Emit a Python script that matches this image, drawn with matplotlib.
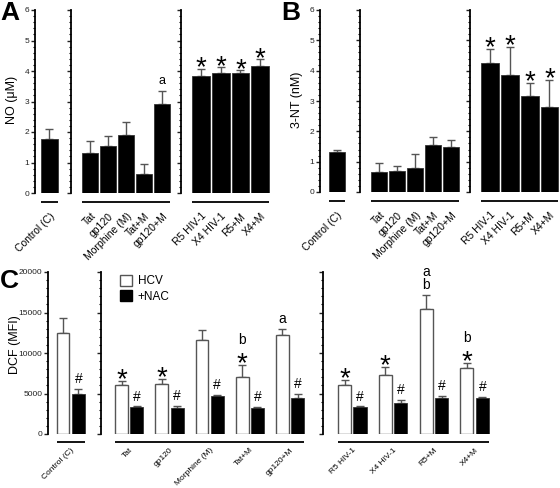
import numpy as np
import matplotlib
matplotlib.use("Agg")
import matplotlib.pyplot as plt
from matplotlib.ticker import MultipleLocator
from matplotlib.patches import Patch

plt.rcParams['font.family'] = ['Liberation Sans', 'DejaVu Sans']

W, H = 560, 488

# ---------------- data ----------------
ctrl_lab = ['Control (C)']
g2_lab = ['Tat', 'gp120', 'Morphine (M)', 'Tat+M', 'gp120+M']
g3_lab = ['R5 HIV-1', 'X4 HIV-1', 'R5+M', 'X4+M']

# panel A: NO (uM)
no_ctrl = [1.76]
no_ctrl_err = [0.33]
no_g2 = [1.30, 1.54, 1.90, 0.61, 2.91]
no_g2_err = [0.41, 0.32, 0.42, 0.34, 0.43]
no_g2_mark = ['', '', '', '', 'a']
no_g3 = [3.83, 3.93, 3.93, 4.15]
no_g3_err = [0.24, 0.19, 0.09, 0.23]
no_g3_mark = ['*', '*', '*', '*']

# panel B: 3-NT (nM)
nt_ctrl = [1.31]
nt_ctrl_err = [0.09]
nt_g2 = [0.66, 0.69, 0.80, 1.55, 1.48]
nt_g2_err = [0.31, 0.17, 0.46, 0.27, 0.22]
nt_g2_mark = ['', '', '', '', '']
nt_g3 = [4.25, 3.86, 3.15, 2.80]
nt_g3_err = [0.47, 0.92, 0.45, 0.89]
nt_g3_mark = ['*', '*', '*', '*']

# panel C: DCF (MFI), HCV vs +NAC
dcf_ctrl_hcv = [12500]
dcf_ctrl_hcv_err = [1800]
dcf_ctrl_nac = [4900]
dcf_ctrl_nac_err = [700]
dcf_g2_hcv = [6000, 6200, 11600, 7000, 12200]
dcf_g2_hcv_err = [600, 600, 1300, 1500, 800]
dcf_g2_nac = [3300, 3250, 4650, 3250, 4500]
dcf_g2_nac_err = [100, 250, 200, 100, 500]
dcf_g2_mark = [['*'], ['*'], [], ['*', 'b'], ['a']]
dcf_g3_hcv = [6100, 7300, 15400, 8200]
dcf_g3_hcv_err = [600, 1000, 1800, 600]
dcf_g3_nac = [3300, 3770, 4500, 4500]
dcf_g3_nac_err = [100, 430, 250, 100]
dcf_g3_mark = [['*'], ['*'], ['b', 'a'], ['*', 'b']]

fig = plt.figure(figsize=(W / 100, H / 100), dpi=100)

ECOL = '#555555'


def make_ax(left, top, bottom, pitch, off, n, pad, ymax, minor, show_labels):
    width = pitch * (off + n - 1 + pad)
    ax = fig.add_axes([left / W, 1 - bottom / H, width / W, (bottom - top) / H])
    ax.set_xlim(-off, n - 1 + pad)
    ax.set_ylim(0, ymax)
    for s in ['top', 'right', 'bottom']:
        ax.spines[s].set_visible(False)
    ax.spines['left'].set_linewidth(1.3)
    ax.yaxis.set_minor_locator(MultipleLocator(minor))
    ax.tick_params(axis='y', which='major', length=3, width=1, labelsize=6,
                   pad=1, labelleft=show_labels, colors='#222222')
    ax.tick_params(axis='y', which='minor', length=1.8, width=0.8)
    ax.patch.set_alpha(0)
    return ax, bottom - top


def labels_and_line(ax, hpx, labels, x0, x1, gap=9, fs=7.5, pad=13):
    ax.plot([x0, x1], [-gap / hpx] * 2, transform=ax.get_xaxis_transform(),
            color='black', lw=1.3, clip_on=False, solid_capstyle='butt')
    ax.set_xticks(np.arange(len(labels)))
    ax.set_xticklabels(labels, rotation=45, ha='right', rotation_mode='anchor',
                       fontsize=fs)
    ax.tick_params(axis='x', length=0, pad=pad)


def star(ax, x, y, dy=0):
    ax.annotate('*', (x, y), xytext=(0, dy - 9), textcoords='offset points',
                ha='center', va='bottom', fontsize=20)


def letter(ax, x, y, s, dy=2, fs=9):
    ax.annotate(s, (x, y), xytext=(0, dy), textcoords='offset points',
                ha='center', va='bottom', fontsize=fs)


def single_group(ax, vals, errs, width):
    x = np.arange(len(vals))
    ax.bar(x, vals, width=width, color='black', edgecolor='#333333', lw=0.6, zorder=2)
    ax.errorbar(x, vals, yerr=[np.zeros(len(vals)), errs], fmt='none',
                ecolor=ECOL, elinewidth=1, capsize=3.2, capthick=1, zorder=1)
    return x


def mark_single(ax, x, vals, errs, marks):
    for xi, v, e, m in zip(x, vals, errs, marks):
        if m == '*':
            star(ax, xi, v + e)
        elif m:
            letter(ax, xi, v + e, m, dy=3)


# ---------------- panel A ----------------
for (vals, errs, marks, labels, left, pitch, off, pad, w, show) in [
        (no_ctrl, no_ctrl_err, [''], ctrl_lab, 35, 19, 0.76, 0.65, 0.9, True),
        (no_g2, no_g2_err, no_g2_mark, g2_lab, 71, 18, 1.08, 0.6, 0.89, False),
        (no_g3, no_g3_err, no_g3_mark, g3_lab, 181, 19.7, 1.02, 0.6, 0.91, False)]:
    ax, hpx = make_ax(left, 10, 193, pitch, off, len(vals), pad, 6, 0.2, show)
    x = single_group(ax, vals, errs, w)
    mark_single(ax, x, vals, errs, marks)
    labels_and_line(ax, hpx, labels, -w / 2, len(vals) - 1 + w / 2)
    ax.yaxis.set_major_locator(MultipleLocator(1))

# ---------------- panel B ----------------
for (vals, errs, marks, labels, left, pitch, off, pad, w, show) in [
        (nt_ctrl, nt_ctrl_err, [''], ctrl_lab, 320, 18, 0.94, 0.65, 0.89, True),
        (nt_g2, nt_g2_err, nt_g2_mark, g2_lab, 360, 18, 1.08, 0.6, 0.89, False),
        (nt_g3, nt_g3_err, nt_g3_mark, g3_lab, 470, 19.7, 1.03, 0.55, 0.9, False)]:
    ax, hpx = make_ax(left, 10, 192, pitch, off, len(vals), pad, 6, 0.2, show)
    x = single_group(ax, vals, errs, w)
    mark_single(ax, x, vals, errs, marks)
    labels_and_line(ax, hpx, labels, -w / 2, len(vals) - 1 + w / 2)
    ax.yaxis.set_major_locator(MultipleLocator(1))

# ---------------- panel C ----------------
OFF, BW = 0.19, 0.32
for (hv, he, nv, ne, marks, labels, left, pitch, off, pad, show) in [
        (dcf_ctrl_hcv, dcf_ctrl_hcv_err, dcf_ctrl_nac, dcf_ctrl_nac_err, [[]],
         ctrl_lab, 48, 40.5, 0.56, 0.5, True),
        (dcf_g2_hcv, dcf_g2_hcv_err, dcf_g2_nac, dcf_g2_nac_err, dcf_g2_mark,
         g2_lab, 100.7, 40.2, 0.71, 0.55, False),
        (dcf_g3_hcv, dcf_g3_hcv_err, dcf_g3_nac, dcf_g3_nac_err, dcf_g3_mark,
         g3_lab, 323.3, 40.8, 0.71, 0.55, False)]:
    n = len(hv)
    ax, hpx = make_ax(left, 272, 434, pitch, off, n, pad, 20000, 1000, show)
    ax.yaxis.set_major_locator(MultipleLocator(5000))
    x = np.arange(n)
    ax.bar(x - OFF, hv, width=BW, color='white', edgecolor='#555555', lw=1, zorder=2)
    ax.bar(x + OFF, nv, width=BW, color='black', edgecolor='#333333', lw=0.6, zorder=2)
    ax.errorbar(x - OFF, hv, yerr=[np.zeros(n), he], fmt='none', ecolor=ECOL,
                elinewidth=1, capsize=3, capthick=1, zorder=1)
    ax.errorbar(x + OFF, nv, yerr=[np.zeros(n), ne], fmt='none', ecolor=ECOL,
                elinewidth=1, capsize=3, capthick=1, zorder=1)
    for xi, v, e, ms in zip(x, hv, he, marks):
        dy = 0
        for m in ms:
            if m == '*':
                star(ax, xi - OFF, v + e, dy=dy)
                dy += 11
            else:
                letter(ax, xi - OFF, v + e, m, dy=dy + 2, fs=10)
                dy += 9
    for xi, v, e in zip(x, nv, ne):
        letter(ax, xi + OFF, v + e, '#', dy=2, fs=10)
    labels_and_line(ax, hpx, labels, -OFF - BW / 2, n - 1 + OFF + BW / 2,
                    gap=8, fs=6.0, pad=9)

handles = [Patch(facecolor='white', edgecolor='#555555', label='HCV'),
           Patch(facecolor='black', edgecolor='black', label='+NAC')]
fig.legend(handles=handles, loc='upper left', bbox_to_anchor=(120 / W, 1 - 275 / H),
           frameon=False, fontsize=8.5, handlelength=1.0, handleheight=1.0,
           handletextpad=0.5, labelspacing=0.25, borderaxespad=0, borderpad=0)

# ---------------- texts ----------------
fig.text(12 / W, 1 - 100 / H, 'NO (μM)', rotation=90, ha='center', va='center', fontsize=9)
fig.text(297 / W, 1 - 100 / H, '3-NT (nM)', rotation=90, ha='center', va='center', fontsize=9)
fig.text(15 / W, 1 - 345 / H, 'DCF (MFI)', rotation=90, ha='center', va='center', fontsize=9)
fig.text(0 / W, 1 - 1 / H, 'A', fontsize=19, fontweight='bold', va='top', ha='left')
fig.text(281 / W, 1 - 1 / H, 'B', fontsize=19, fontweight='bold', va='top', ha='left')
fig.text(0 / W, 1 - 269 / H, 'C', fontsize=19, fontweight='bold', va='top', ha='left')

fig.savefig('out.png', dpi=100)
